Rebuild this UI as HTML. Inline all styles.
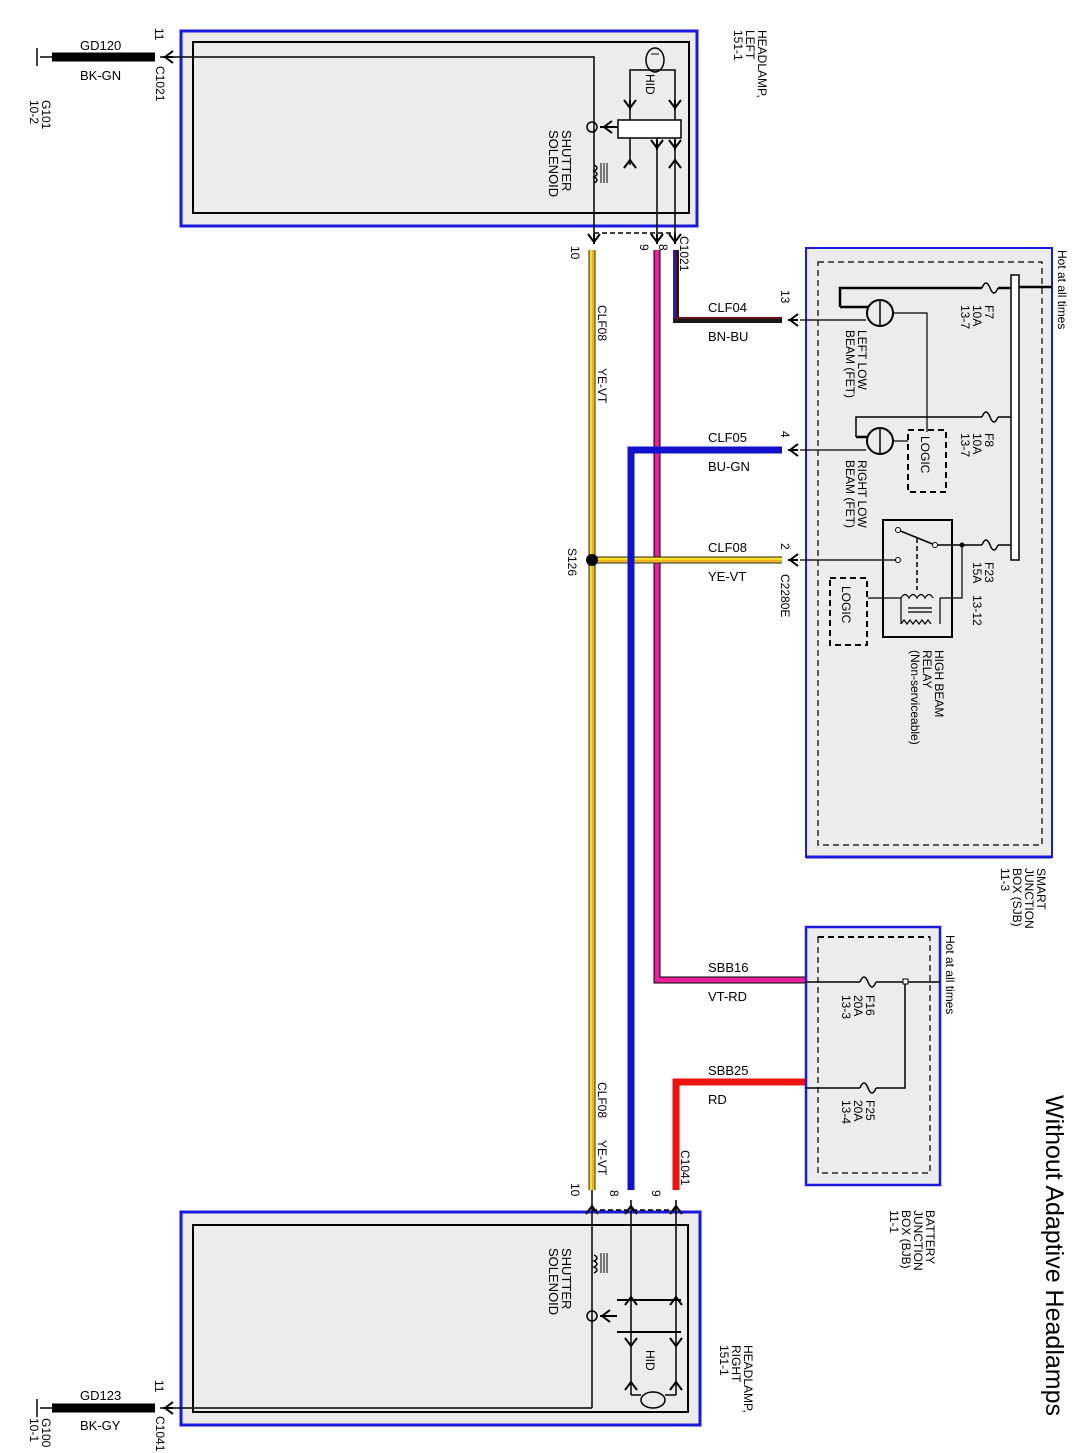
<!DOCTYPE html>
<html><head><meta charset="utf-8"><style>
html,body{margin:0;padding:0;background:#fff;}
svg{display:block;}
text{font-family:"Liberation Sans",Arial,sans-serif;fill:#000;}
.l{font-size:13px;}
.r{font-size:12px;}
</style></head><body>
<svg width="1089" height="1453" viewBox="0 0 1089 1453" xmlns="http://www.w3.org/2000/svg">
<defs>
<g id="arrD"><path d="M-6,-6 L0,2 L6,-6 M0,-6 L0,4" fill="none" stroke="#000" stroke-width="2"/></g>
<g id="arrL"><path d="M6,-6 L-2,0 L6,6 M6,0 L-4,0" fill="none" stroke="#000" stroke-width="2"/></g>
</defs>

<!-- LEFT HEADLAMP -->
<rect x="181" y="31" width="516" height="195" fill="#ececec" stroke="#1a1adc" stroke-width="3"/>
<rect x="193" y="42" width="496" height="171" fill="none" stroke="#000" stroke-width="2"/>
<line x1="40" y1="57" x2="52" y2="57" stroke="#000" stroke-width="1.5"/>
<line x1="37" y1="48" x2="37" y2="66" stroke="#000" stroke-width="1.5"/>
<line x1="52" y1="57" x2="155" y2="57" stroke="#000" stroke-width="9"/>
<polyline points="160,57 594,57 594,240" fill="none" stroke="#000" stroke-width="1.5"/>
<use href="#arrL" x="167" y="57"/>
<text class="l" x="80" y="50">GD120</text>
<text class="l" x="80" y="80">BK-GN</text>
<text class="r" transform="translate(155,28) rotate(90)">11</text>
<text class="r" transform="translate(156,66) rotate(90)">C1021</text>
<text class="r" transform="translate(42,100) rotate(90)">G101</text>
<text class="r" transform="translate(30,100) rotate(90)">10-2</text>
<text class="r" transform="translate(758,30) rotate(90)">HEADLAMP,</text>
<text class="r" transform="translate(746,30) rotate(90)">LEFT</text>
<text class="r" transform="translate(734,30) rotate(90)">151-1</text>
<!-- HID -->
<ellipse cx="655" cy="60" rx="9" ry="12" fill="none" stroke="#000" stroke-width="1.5"/>
<line x1="651" y1="54" x2="659" y2="54" stroke="#000" stroke-width="1"/>
<polyline points="630,100 630,70 675,70 675,100" fill="none" stroke="#000" stroke-width="1.5"/>
<line x1="630" y1="100" x2="630" y2="165" stroke="#000" stroke-width="1.5"/>
<line x1="675" y1="100" x2="675" y2="240" stroke="#000" stroke-width="1.5"/>
<line x1="657" y1="138" x2="657" y2="240" stroke="#000" stroke-width="1.5"/>
<use href="#arrD" x="630" y="106"/><use href="#arrD" x="675" y="106"/>
<path d="M624,168 L630,160 L636,168 M669,168 L675,160 L681,168" fill="none" stroke="#000" stroke-width="2"/>
<rect x="618" y="120" width="63" height="18" fill="#fff" stroke="#000" stroke-width="1.5"/>
<use href="#arrD" x="657" y="146"/><use href="#arrD" x="675" y="146"/>
<text class="r" transform="translate(646,74) rotate(90)">HID</text>
<circle cx="592" cy="127" r="5" fill="none" stroke="#000" stroke-width="1.5"/>
<path d="M600,127 L618,127 M612,121 L604,127 L612,133" fill="none" stroke="#000" stroke-width="2"/>
<path d="M594,165 q6,3 0,6 q6,3 0,6 q6,3 0,6" fill="none" stroke="#000" stroke-width="1.5"/>
<path d="M601,163 L601,183 M604,163 L604,183 M607,163 L607,183" stroke="#000" stroke-width="1"/>
<text class="r" transform="translate(562,130) rotate(90)" style="font-size:13px">SHUTTER</text>
<text class="r" transform="translate(549,130) rotate(90)" style="font-size:13px">SOLENOID</text>
<line x1="594" y1="233" x2="675" y2="233" stroke="#000" stroke-width="1.5" stroke-dasharray="5,3"/>
<use href="#arrD" x="594" y="240"/><use href="#arrD" x="657" y="240"/><use href="#arrD" x="675" y="240"/>
<text class="r" transform="translate(571,246) rotate(90)">10</text>
<text class="r" transform="translate(640,244) rotate(90)">9</text>
<text class="r" transform="translate(659,244) rotate(90)">8</text>
<text class="r" transform="translate(680,236) rotate(90)">C1021</text>

<!-- WIRES -->
<polyline points="657,250 657,980 805,980" fill="none" stroke="#000" stroke-width="7"/>
<polyline points="657,250 657,980 805,980" fill="none" stroke="#e8209a" stroke-width="5"/>
<polyline points="676,250 676,320 782,320" fill="none" stroke="#1a1a1a" stroke-width="6"/>
<polyline points="676,250 676,318 782,318" fill="none" stroke="#7a1010" stroke-width="1.5"/>
<line x1="674" y1="250" x2="674" y2="318" stroke="#2020d0" stroke-width="2"/>
<polyline points="782,450 631,450 631,1190" fill="none" stroke="#1111cc" stroke-width="7"/>
<line x1="592" y1="250" x2="592" y2="1190" stroke="#222" stroke-width="7"/>
<line x1="592" y1="250" x2="592" y2="1190" stroke="#f8e020" stroke-width="5"/>
<line x1="593" y1="250" x2="593" y2="1190" stroke="#e88020" stroke-width="1"/>
<line x1="592" y1="560" x2="782" y2="560" stroke="#222" stroke-width="7"/>
<line x1="592" y1="560" x2="782" y2="560" stroke="#f8e020" stroke-width="5"/>
<line x1="592" y1="561" x2="782" y2="561" stroke="#e88020" stroke-width="1"/>
<circle cx="592" cy="560" r="6" fill="#000"/>
<polyline points="805,1082 676,1082 676,1190" fill="none" stroke="#ee1111" stroke-width="7"/>
<line x1="631" y1="450" x2="631" y2="1190" stroke="#1111cc" stroke-width="7"/>

<text class="l" x="708" y="312">CLF04</text>
<text class="l" x="708" y="341">BN-BU</text>
<text class="l" x="708" y="442">CLF05</text>
<text class="l" x="708" y="471">BU-GN</text>
<text class="l" x="708" y="552">CLF08</text>
<text class="l" x="708" y="581">YE-VT</text>
<text class="l" x="708" y="972">SBB16</text>
<text class="l" x="708" y="1001">VT-RD</text>
<text class="l" x="708" y="1075">SBB25</text>
<text class="l" x="708" y="1104">RD</text>
<text class="r" transform="translate(598,305) rotate(90)">CLF08</text>
<text class="r" transform="translate(598,368) rotate(90)">YE-VT</text>
<text class="r" transform="translate(568,548) rotate(90)">S126</text>
<text class="r" transform="translate(598,1082) rotate(90)">CLF08</text>
<text class="r" transform="translate(598,1140) rotate(90)">YE-VT</text>
<text class="r" transform="translate(681,1150) rotate(90)">C1041</text>
<text class="r" transform="translate(781,290) rotate(90)">13</text>
<text class="r" transform="translate(781,431) rotate(90)">4</text>
<text class="r" transform="translate(781,543) rotate(90)">2</text>
<text class="r" transform="translate(781,574) rotate(90)">C2280E</text>
<use href="#arrL" x="792" y="320"/><use href="#arrL" x="792" y="450"/><use href="#arrL" x="792" y="560"/>

<!-- SJB -->
<rect x="806" y="248" width="246" height="609" fill="#ececec" stroke="#1a1adc" stroke-width="2"/>
<line x1="806" y1="857" x2="1052" y2="857" stroke="#1a1adc" stroke-width="3"/>
<rect x="818" y="262" width="224" height="583" fill="none" stroke="#000" stroke-width="1.2" stroke-dasharray="6,4"/>
<line x1="800" y1="320" x2="866" y2="320" stroke="#000" stroke-width="1.2"/>
<line x1="800" y1="450" x2="866" y2="450" stroke="#000" stroke-width="1.2"/>
<line x1="800" y1="560" x2="898" y2="560" stroke="#000" stroke-width="1.2"/>
<rect x="1011" y="275" width="8" height="285" fill="#fff" stroke="#000" stroke-width="1.5"/>
<line x1="1019" y1="287" x2="1052" y2="287" stroke="#000" stroke-width="2.5"/>
<text class="r" transform="translate(1058,250) rotate(90)">Hot at all times</text>
<polyline points="840,307 840,288 982,288" fill="none" stroke="#000" stroke-width="2.5"/>
<path d="M982,288 q4,-10 8,0 q4,10 8,0" fill="none" stroke="#000" stroke-width="1.5"/>
<line x1="998" y1="288" x2="1011" y2="288" stroke="#000" stroke-width="2.5"/>
<line x1="840" y1="307" x2="868" y2="307" stroke="#000" stroke-width="2.5"/>
<circle cx="880" cy="313" r="13" fill="none" stroke="#000" stroke-width="2"/>
<line x1="880" y1="300" x2="880" y2="326" stroke="#000" stroke-width="1.5"/>
<polyline points="893,313 927,313 927,432" fill="none" stroke="#000" stroke-width="1.2"/>
<text class="r" transform="translate(985,305) rotate(90)">F7</text>
<text class="r" transform="translate(973,305) rotate(90)">10A</text>
<text class="r" transform="translate(961,305) rotate(90)">13-7</text>
<text class="r" transform="translate(858,330) rotate(90)">LEFT LOW</text>
<text class="r" transform="translate(846,330) rotate(90)">BEAM (FET)</text>
<polyline points="856,437 856,417 982,417" fill="none" stroke="#000" stroke-width="1.5"/>
<path d="M982,417 q4,-10 8,0 q4,10 8,0" fill="none" stroke="#000" stroke-width="1.5"/>
<line x1="998" y1="417" x2="1011" y2="417" stroke="#000" stroke-width="1.5"/>
<line x1="856" y1="437" x2="868" y2="437" stroke="#000" stroke-width="2.5"/>
<circle cx="880" cy="441" r="13" fill="none" stroke="#000" stroke-width="2"/>
<line x1="880" y1="428" x2="880" y2="454" stroke="#000" stroke-width="1.5"/>
<polyline points="893,441 908,441" fill="none" stroke="#000" stroke-width="1.2"/>
<rect x="908" y="430" width="38" height="62" fill="none" stroke="#000" stroke-width="2" stroke-dasharray="6,4"/>
<text class="r" transform="translate(921,436) rotate(90)">LOGIC</text>
<text class="r" transform="translate(985,433) rotate(90)">F8</text>
<text class="r" transform="translate(973,433) rotate(90)">10A</text>
<text class="r" transform="translate(961,433) rotate(90)">13-7</text>
<text class="r" transform="translate(858,460) rotate(90)">RIGHT LOW</text>
<text class="r" transform="translate(846,460) rotate(90)">BEAM (FET)</text>
<rect x="883" y="520" width="69" height="117" fill="none" stroke="#000" stroke-width="2"/>
<path d="M982,545 q4,-10 8,0 q4,10 8,0" fill="none" stroke="#000" stroke-width="1.5"/>
<line x1="998" y1="545" x2="1011" y2="545" stroke="#000" stroke-width="1.5"/>
<line x1="935" y1="545" x2="982" y2="545" stroke="#000" stroke-width="1.5"/>
<circle cx="962" cy="545" r="2.5" fill="#000"/>
<polyline points="962,545 962,598 940,598" fill="none" stroke="#000" stroke-width="1.2"/>
<line x1="898" y1="530" x2="935" y2="545" stroke="#000" stroke-width="1.5"/>
<circle cx="898" cy="530" r="2.5" fill="#fff" stroke="#000"/>
<circle cx="935" cy="545" r="2.5" fill="#fff" stroke="#000"/>
<circle cx="898" cy="560" r="2.5" fill="#fff" stroke="#000"/>
<line x1="917" y1="538" x2="917" y2="590" stroke="#000" stroke-width="1.5" stroke-dasharray="5,3"/>
<path d="M901,598 q4,-7 8,0 q4,-7 8,0 q4,-7 8,0 q4,-7 8,0 M901,624 l3,-4 l3,4 l3,-4 l3,4 l3,-4 l3,4 l3,-4 l3,4 l3,-4 l3,4 M901,598 L901,624 M940,598 L940,624 M908,608 L932,608 M908,612 L932,612" fill="none" stroke="#000" stroke-width="1.2"/>
<line x1="868" y1="598" x2="901" y2="598" stroke="#000" stroke-width="1.2"/>
<rect x="830" y="578" width="37" height="67" fill="none" stroke="#000" stroke-width="2" stroke-dasharray="6,4"/>
<text class="r" transform="translate(842,586) rotate(90)">LOGIC</text>
<text class="r" transform="translate(985,562) rotate(90)">F23</text>
<text class="r" transform="translate(973,562) rotate(90)">15A</text>
<text class="r" transform="translate(973,595) rotate(90)">13-12</text>
<text class="r" transform="translate(935,650) rotate(90)">HIGH BEAM</text>
<text class="r" transform="translate(923,650) rotate(90)">RELAY</text>
<text class="r" transform="translate(911,650) rotate(90)">(Non-serviceable)</text>
<text class="r" transform="translate(1037,868) rotate(90)">SMART</text>
<text class="r" transform="translate(1025,868) rotate(90)">JUNCTION</text>
<text class="r" transform="translate(1013,868) rotate(90)">BOX (SJB)</text>
<text class="r" transform="translate(1001,868) rotate(90)">11-3</text>

<!-- BJB -->
<rect x="806" y="927" width="134" height="258" fill="#ececec" stroke="#1a1adc" stroke-width="2.5"/>
<rect x="818" y="937" width="112" height="236" fill="none" stroke="#000" stroke-width="1.2" stroke-dasharray="6,4"/>
<line x1="818" y1="937" x2="930" y2="937" stroke="#000" stroke-width="2" stroke-dasharray="6,4"/>
<line x1="805" y1="982" x2="860" y2="982" stroke="#000" stroke-width="1.5"/>
<path d="M860,982 q4,-10 8,0 q4,10 8,0" fill="none" stroke="#000" stroke-width="1.5"/>
<line x1="876" y1="982" x2="940" y2="982" stroke="#000" stroke-width="1.5"/>
<rect x="903" y="979" width="5" height="5" fill="#fff" stroke="#000"/>
<line x1="805" y1="1088" x2="860" y2="1088" stroke="#000" stroke-width="1.5"/>
<path d="M860,1088 q4,-10 8,0 q4,10 8,0" fill="none" stroke="#000" stroke-width="1.5"/>
<polyline points="876,1088 905,1088 905,984" fill="none" stroke="#000" stroke-width="1.5"/>
<text class="r" transform="translate(946,935) rotate(90)">Hot at all times</text>
<text class="r" transform="translate(866,995) rotate(90)">F16</text>
<text class="r" transform="translate(854,995) rotate(90)">20A</text>
<text class="r" transform="translate(842,995) rotate(90)">13-3</text>
<text class="r" transform="translate(866,1100) rotate(90)">F25</text>
<text class="r" transform="translate(854,1100) rotate(90)">20A</text>
<text class="r" transform="translate(842,1100) rotate(90)">13-4</text>
<text class="r" transform="translate(926,1210) rotate(90)">BATTERY</text>
<text class="r" transform="translate(914,1210) rotate(90)">JUNCTION</text>
<text class="r" transform="translate(902,1210) rotate(90)">BOX (BJB)</text>
<text class="r" transform="translate(890,1210) rotate(90)">11-1</text>
<text transform="translate(1046,1095) rotate(90)" style="font-size:25px">Without Adaptive Headlamps</text>

<!-- RIGHT HEADLAMP -->
<rect x="181" y="1212" width="519" height="213" fill="#ececec" stroke="#1a1adc" stroke-width="3"/>
<rect x="193" y="1225" width="495" height="187" fill="none" stroke="#000" stroke-width="2"/>
<line x1="592" y1="1190" x2="592" y2="1408" stroke="#000" stroke-width="1.5"/>
<line x1="592" y1="1408" x2="160" y2="1408" stroke="#000" stroke-width="1.5"/>
<use href="#arrL" x="167" y="1408"/>
<line x1="52" y1="1408" x2="155" y2="1408" stroke="#000" stroke-width="9"/>
<line x1="40" y1="1408" x2="52" y2="1408" stroke="#000" stroke-width="1.5"/>
<line x1="37" y1="1399" x2="37" y2="1417" stroke="#000" stroke-width="1.5"/>
<text class="l" x="80" y="1400">GD123</text>
<text class="l" x="80" y="1430">BK-GY</text>
<text class="r" transform="translate(155,1380) rotate(90)">11</text>
<text class="r" transform="translate(156,1416) rotate(90)">C1041</text>
<text class="r" transform="translate(42,1418) rotate(90)">G100</text>
<text class="r" transform="translate(30,1418) rotate(90)">10-1</text>
<text class="r" transform="translate(744,1345) rotate(90)">HEADLAMP,</text>
<text class="r" transform="translate(732,1345) rotate(90)">RIGHT</text>
<text class="r" transform="translate(720,1345) rotate(90)">151-1</text>
<line x1="592" y1="1210" x2="676" y2="1210" stroke="#000" stroke-width="1.5" stroke-dasharray="5,3"/>
<path d="M586,1214 L592,1206 L598,1214 M625,1214 L631,1206 L637,1214 M670,1214 L676,1206 L682,1214" fill="none" stroke="#000" stroke-width="2"/>
<text class="r" transform="translate(571,1183) rotate(90)">10</text>
<text class="r" transform="translate(610,1190) rotate(90)">8</text>
<text class="r" transform="translate(652,1190) rotate(90)">9</text>
<line x1="631" y1="1200" x2="631" y2="1395" stroke="#000" stroke-width="1.5"/>
<line x1="676" y1="1200" x2="676" y2="1395" stroke="#000" stroke-width="1.5"/>
<line x1="617" y1="1300" x2="681" y2="1300" stroke="#000" stroke-width="2"/>
<line x1="617" y1="1332" x2="681" y2="1332" stroke="#000" stroke-width="2"/>
<path d="M625,1305 L631,1297 L637,1305 M670,1305 L676,1297 L682,1305 M625,1338 L631,1346 L637,1338 M670,1338 L676,1346 L682,1338 M625,1390 L631,1382 L637,1390 M670,1390 L676,1382 L682,1390" fill="none" stroke="#000" stroke-width="2"/>
<circle cx="592" cy="1316" r="5" fill="none" stroke="#000" stroke-width="1.5"/>
<path d="M600,1316 L617,1316 M610,1310 L602,1316 L610,1322" fill="none" stroke="#000" stroke-width="2"/>
<path d="M594,1255 q6,3 0,6 q6,3 0,6 q6,3 0,6" fill="none" stroke="#000" stroke-width="1.5"/>
<path d="M601,1253 L601,1273 M604,1253 L604,1273 M607,1253 L607,1273" stroke="#000" stroke-width="1"/>
<text class="r" transform="translate(562,1248) rotate(90)" style="font-size:13px">SHUTTER</text>
<text class="r" transform="translate(549,1248) rotate(90)" style="font-size:13px">SOLENOID</text>
<text class="r" transform="translate(646,1350) rotate(90)">HID</text>
<ellipse cx="653" cy="1400" rx="12" ry="8" fill="none" stroke="#000" stroke-width="1.5"/>
<polyline points="631,1395 641,1395" fill="none" stroke="#000" stroke-width="1.5"/>
<polyline points="665,1395 676,1395" fill="none" stroke="#000" stroke-width="1.5"/>
</svg>
</body></html>
